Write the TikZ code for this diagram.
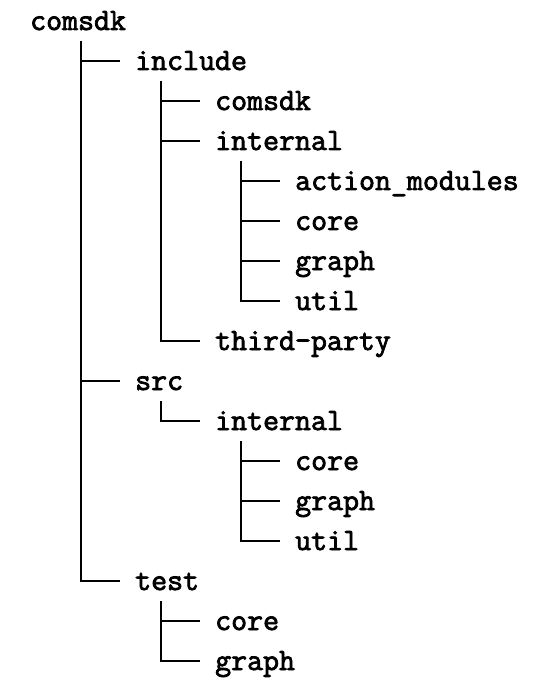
\documentclass[tikz,border=0pt]{standalone}
\usepackage{fontspec}
\newfontfamily\treefont[FakeBold=2.5]{Latin Modern Mono}
\begin{document}
\begin{tikzpicture}[x=1pt,y=-1pt,
  lbl/.style={anchor=base west,inner sep=0pt,font=\treefont\fontsize{31}{34}\selectfont},
  conn/.style={line width=2pt,line join=miter}]
\useasboundingbox (0,0) rectangle (532,684);
% rows: line y = 21 + 40 i, baseline = line + 9
\node[lbl] (r) at (30,30) {comsdk};
\node[lbl] (inc) at (135,70) {include};
\node[lbl] (incc) at (215,110) {comsdk};
\node[lbl] (inci) at (215,150) {internal};
\node[lbl] (inciam) at (295,190) {action\_modules};
\node[lbl] (incicore) at (295,230) {core};
\node[lbl] (incigraph) at (295,270) {graph};
\node[lbl] (inciutil) at (295,310) {util};
\node[lbl] (inct) at (215,350) {third-party};
\node[lbl] (src) at (135,390) {src};
\node[lbl] (srci) at (215,430) {internal};
\node[lbl] (srcicore) at (295,470) {core};
\node[lbl] (srcigraph) at (295,510) {graph};
\node[lbl] (srciutil) at (295,550) {util};
\node[lbl] (test) at (135,590) {test};
\node[lbl] (testcore) at (215,630) {core};
\node[lbl] (testgraph) at (215,670) {graph};
% connectors
\foreach \c in {inc,src,test}
  \draw[conn] ([xshift=51pt,yshift=-11pt]r.base west) |- ([xshift=-15pt,yshift=9pt]\c.base west);
\foreach \c in {incc,inci,inct}
  \draw[conn] ([xshift=26pt,yshift=-11pt]inc.base west) |- ([xshift=-15pt,yshift=9pt]\c.base west);
\foreach \c in {inciam,incicore,incigraph,inciutil}
  \draw[conn] ([xshift=26pt,yshift=-11pt]inci.base west) |- ([xshift=-15pt,yshift=9pt]\c.base west);
\draw[conn] ([xshift=26pt,yshift=-11pt]src.base west) |- ([xshift=-15pt,yshift=9pt]srci.base west);
\foreach \c in {srcicore,srcigraph,srciutil}
  \draw[conn] ([xshift=26pt,yshift=-11pt]srci.base west) |- ([xshift=-15pt,yshift=9pt]\c.base west);
\foreach \c in {testcore,testgraph}
  \draw[conn] ([xshift=26pt,yshift=-11pt]test.base west) |- ([xshift=-15pt,yshift=9pt]\c.base west);
\end{tikzpicture}
\end{document}
